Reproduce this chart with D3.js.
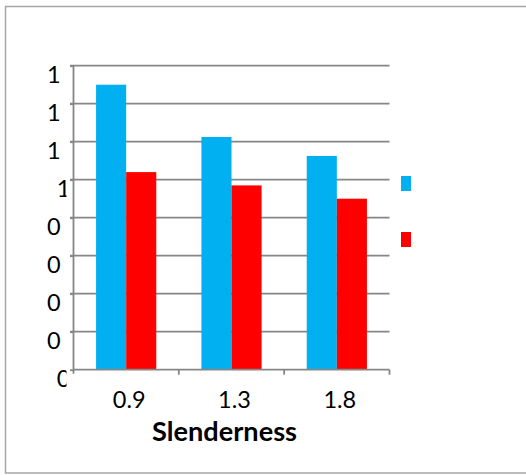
<!DOCTYPE html>
<html><head><meta charset="utf-8">
<script src="https://cdn.jsdelivr.net/npm/d3@7"></script>
<style>html,body{margin:0;padding:0;background:#fff;} svg{display:block;}</style>
</head><body>
<svg id="chart" width="526" height="475"></svg>
<script>
const categories = ["0.9", "1.3", "1.8"];
const seriesKeys = ["s1", "s2"];
const series1 = [1.5, 1.225, 1.125];
const series2 = [1.04, 0.97, 0.90];
const yTickValues = [0, 0.2, 0.4, 0.6, 0.8, 1.0, 1.2, 1.4, 1.6];
const xTitle = "Slenderness";
const seriesColors = ["#00B0F0", "#FF0000"];

const svg = d3.select("#chart");
const FONT = "Lato, 'Noto Sans', sans-serif";
const gridColor = "#868686";

// outer frame
svg.append("rect").attr("x", 5.5).attr("y", 6.5).attr("width", 530).attr("height", 466.5)
  .attr("fill", "#fff").attr("stroke", "#a6a6a6").attr("stroke-width", 1.5);

const plotL = 73.5, plotR = 389.5, plotT = 65.7, plotB = 369.7;
const x = d3.scaleBand().domain(categories).range([plotL, plotR]).paddingInner(0).paddingOuter(0);
const xs = d3.scaleBand().domain(seriesKeys).range([0, x.bandwidth()]).paddingInner(0).paddingOuter(0.75);
const y = d3.scaleLinear().domain([0, 1.6]).range([plotB, plotT]);

// gridlines
svg.append("g").selectAll("line").data(yTickValues.slice(1)).join("line")
  .attr("x1", plotL - 3.5).attr("x2", plotR)
  .attr("y1", d => y(d)).attr("y2", d => y(d))
  .attr("stroke", gridColor).attr("stroke-width", 1.8);

// bars
const rows = categories.map((c, i) => ({cat: c, vals: [series1[i], series2[i]]}));
const gBars = svg.append("g");
rows.forEach(r => {
  r.vals.forEach((v, j) => {
    gBars.append("rect")
      .attr("x", x(r.cat) + xs(seriesKeys[j]))
      .attr("y", y(v))
      .attr("width", xs.bandwidth())
      .attr("height", y(0) - y(v))
      .attr("fill", seriesColors[j]);
  });
});

// y axis
const yAxis = d3.axisLeft(y).tickValues(yTickValues).tickSize(3.5).tickSizeOuter(0).tickFormat("");
const gy = svg.append("g").attr("transform", `translate(${plotL},0)`).call(yAxis);
gy.select(".domain").attr("stroke", gridColor).attr("stroke-width", 1.8).attr("d", `M0,${plotT}V${plotB + 4}`);
gy.selectAll(".tick line").attr("stroke", gridColor).attr("stroke-width", 1.8);

// x axis
const xAxis = d3.axisBottom(x).tickSize(0).tickSizeOuter(0);
const gx = svg.append("g").attr("transform", `translate(0,${plotB})`).call(xAxis);
gx.select(".domain").attr("stroke", gridColor).attr("stroke-width", 1.8).attr("d", `M${plotL},0H${plotR}`);
gx.selectAll(".tick text").attr("font-family", FONT).attr("font-size", 23.5).attr("fill", "#000")
  .attr("dx", 3).attr("y", 0).attr("dy", 38.5);
// category boundary ticks
svg.append("g").selectAll("line").data(categories).join("line")
  .attr("x1", d => x(d) + x.bandwidth()).attr("x2", d => x(d) + x.bandwidth())
  .attr("y1", plotB).attr("y2", plotB + 5)
  .attr("stroke", gridColor).attr("stroke-width", 1.8);

// y tick labels (clipped as in the reference)
svg.append("clipPath").attr("id", "yclip").append("rect")
  .attr("x", 0).attr("y", 0).attr("width", 66.5).attr("height", 475);
const gyl = svg.append("g").attr("clip-path", "url(#yclip)");
const fmt = d => String(+d.toFixed(1));
yTickValues.forEach(v => {
  const full = fmt(v);
  const t = gyl.append("text").attr("font-family", FONT).attr("font-size", 23.5).attr("fill", "#000").text(full);
  const w = t.node().getComputedTextLength();
  t.attr("x", 63.5 - w / 2).attr("y", y(v) + 17.3).text(full.charAt(0));
});

// x title
svg.append("text").attr("x", 224.5).attr("y", 441).attr("text-anchor", "middle")
  .attr("font-family", FONT).attr("font-weight", "bold").attr("font-size", 26.5).attr("fill", "#000")
  .attr("textLength", 145).attr("lengthAdjust", "spacingAndGlyphs")
  .text(xTitle);

// legend swatches
svg.append("g").selectAll("rect").data(seriesKeys).join("rect")
  .attr("x", 401).attr("y", (d, i) => 176 + i * 56)
  .attr("width", 10).attr("height", 15)
  .attr("fill", (d, i) => seriesColors[i]);
</script>
</body></html>
